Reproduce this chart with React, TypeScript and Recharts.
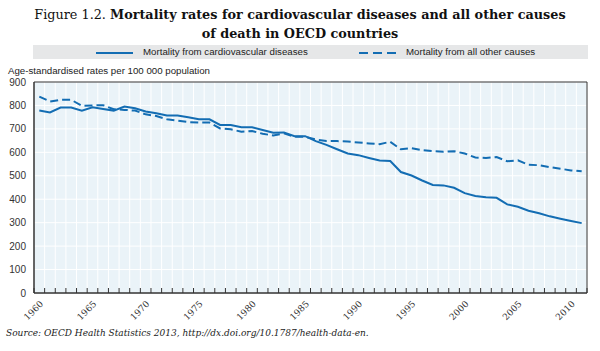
import React from "react";
import {
  LineChart,
  Line,
  XAxis,
  YAxis,
  CartesianGrid,
  ReferenceArea,
} from "recharts";

// years 1960..2011
const years = [
  1960, 1961, 1962, 1963, 1964, 1965, 1966, 1967, 1968, 1969,
  1970, 1971, 1972, 1973, 1974, 1975, 1976, 1977, 1978, 1979,
  1980, 1981, 1982, 1983, 1984, 1985, 1986, 1987, 1988, 1989,
  1990, 1991, 1992, 1993, 1994, 1995, 1996, 1997, 1998, 1999,
  2000, 2001, 2002, 2003, 2004, 2005, 2006, 2007, 2008, 2009,
  2010, 2011,
];

const cardiovascular = [
  778, 770, 791, 791, 778, 792, 785, 778, 795, 788,
  774, 767, 757, 757, 750, 741, 741, 717, 717, 707,
  707, 695, 684, 685, 669, 669, 648, 632, 613, 595,
  588, 576, 565, 563, 516, 501, 480, 461, 459, 449,
  426, 414, 408, 406, 378, 368, 351, 340, 327, 317,
  307, 298,
];

const otherCauses = [
  838, 817, 824, 824, 798, 800, 801, 784, 781, 778,
  762, 755, 741, 735, 729, 727, 727, 702, 698, 688,
  691, 679, 672, 681, 666, 666, 655, 648, 648, 646,
  642, 638, 635, 645, 613, 618, 609, 605, 602, 605,
  595, 578, 576, 580, 562, 566, 547, 545, 537, 530,
  523, 519,
];

const yTicks = [0, 100, 200, 300, 400, 500, 600, 700, 800, 900];
const labelYears = [1960, 1965, 1970, 1975, 1980, 1985, 1990, 1995, 2000, 2005, 2010];

const data = years.map((year, i) => ({
  year,
  cvd: cardiovascular[i],
  other: otherCauses[i],
}));

// tick marks sit on the boundaries between years
const boundaries = [...years.map((y) => y - 0.5), 2011.5];

const BLUE = "#136db3";
const narrow = "'Liberation Sans Narrow', 'Arial Narrow', 'Liberation Sans', sans-serif";

// small inward tick mark on each year boundary (props.y = axis + 6 + 2)
const renderTickMark = (props: any) => {
  const x = Number(props.x);
  const y = Number(props.y) - 8;
  return <line x1={x} x2={x} y1={y} y2={y - 5} stroke="#333" strokeWidth={1} />;
};

export default function App() {
  return (
    <div
      style={{
        position: "absolute",
        left: 0,
        top: 0,
        width: 600,
        height: 351,
        background: "#fff",
        overflow: "hidden",
      }}
    >
      <div
        style={{
          position: "absolute",
          top: 5,
          left: 0,
          width: 600,
          textAlign: "center",
          fontFamily: "'DejaVu Serif', serif",
          fontSize: 12.8,
          lineHeight: "19px",
          color: "#111",
        }}
      >
        Figure 1.2. <b>Mortality rates for cardiovascular diseases and all other causes</b>
        <br />
        <b>of death in OECD countries</b>
      </div>

      <div
        style={{
          position: "absolute",
          left: 33,
          top: 45,
          width: 555,
          height: 14,
          background: "#e6e7e8",
          fontFamily: narrow,
          fontSize: 9.7,
          color: "#222",
        }}
      >
        <svg style={{ position: "absolute", left: 63, top: 7 }} width={37} height={2}>
          <line x1={0} y1={1} x2={37} y2={1} stroke={BLUE} strokeWidth={2} />
        </svg>
        <span style={{ position: "absolute", left: 110, top: 0, lineHeight: "14px" }}>
          Mortality from cardiovascular diseases
        </span>
        <svg style={{ position: "absolute", left: 326, top: 7 }} width={38} height={2}>
          <line x1={0} y1={1} x2={38} y2={1} stroke={BLUE} strokeWidth={2} strokeDasharray="9 5" />
        </svg>
        <span style={{ position: "absolute", left: 373, top: 0, lineHeight: "14px" }}>
          Mortality from all other causes
        </span>
      </div>

      <div
        style={{
          position: "absolute",
          left: 8,
          top: 65,
          fontFamily: narrow,
          fontSize: 9.7,
          lineHeight: "12px",
          color: "#222",
        }}
      >
        Age-standardised rates per 100 000 population
      </div>

      <div style={{ position: "absolute", left: 0, top: 0 }}>
        <LineChart
          width={600}
          height={351}
          data={data}
          margin={{ top: 82, right: 13, bottom: 20, left: 4 }}
        >
          <CartesianGrid stroke="#ffffff" strokeWidth={1} fill="#eaf3f8" fillOpacity={1} />
          <XAxis
            dataKey="year"
            type="number"
            domain={[1959.5, 2011.5]}
            ticks={boundaries}
            allowDataOverflow
            interval={0}
            height={7}
            tickSize={6}
            tickLine={{ stroke: "none" }}
            tick={renderTickMark}
            axisLine={{ stroke: "#333" }}
          />
          <XAxis
            xAxisId="lbl"
            dataKey="year"
            type="number"
            domain={[1959.5, 2011.5]}
            ticks={labelYears}
            allowDataOverflow
            interval={0}
            height={31}
            tickSize={0}
            tickMargin={0}
            tickLine={false}
            axisLine={false}
            tick={{
              angle: -45,
              textAnchor: "end",
              fontSize: 9,
              fontFamily: "'DejaVu Serif', serif",
              fill: "#333",
            }}
          />
          <YAxis
            width={30}
            domain={[0, 900]}
            ticks={yTicks}
            interval={0}
            tickSize={0}
            tickMargin={8}
            tickLine={false}
            axisLine={{ stroke: "#333" }}
            tick={{ fontSize: 10, fill: "#333", fontFamily: narrow }}
          />
          <ReferenceArea
            x1={1959.5}
            x2={2011.5}
            y1={0}
            y2={900}
            fill="none"
            stroke="#333"
            strokeWidth={1}
          />
          <Line
            dataKey="other"
            stroke={BLUE}
            strokeWidth={2}
            strokeDasharray="8 4"
            dot={false}
            isAnimationActive={false}
          />
          <Line
            dataKey="cvd"
            stroke={BLUE}
            strokeWidth={2}
            dot={false}
            isAnimationActive={false}
          />
        </LineChart>
      </div>

      <div
        style={{
          position: "absolute",
          left: 6,
          top: 328,
          fontFamily: "'DejaVu Serif', serif",
          fontStyle: "italic",
          fontSize: 9,
          color: "#222",
        }}
      >
        Source: OECD Health Statistics 2013, http://dx.doi.org/10.1787/health-data-en.
      </div>
    </div>
  );
}
